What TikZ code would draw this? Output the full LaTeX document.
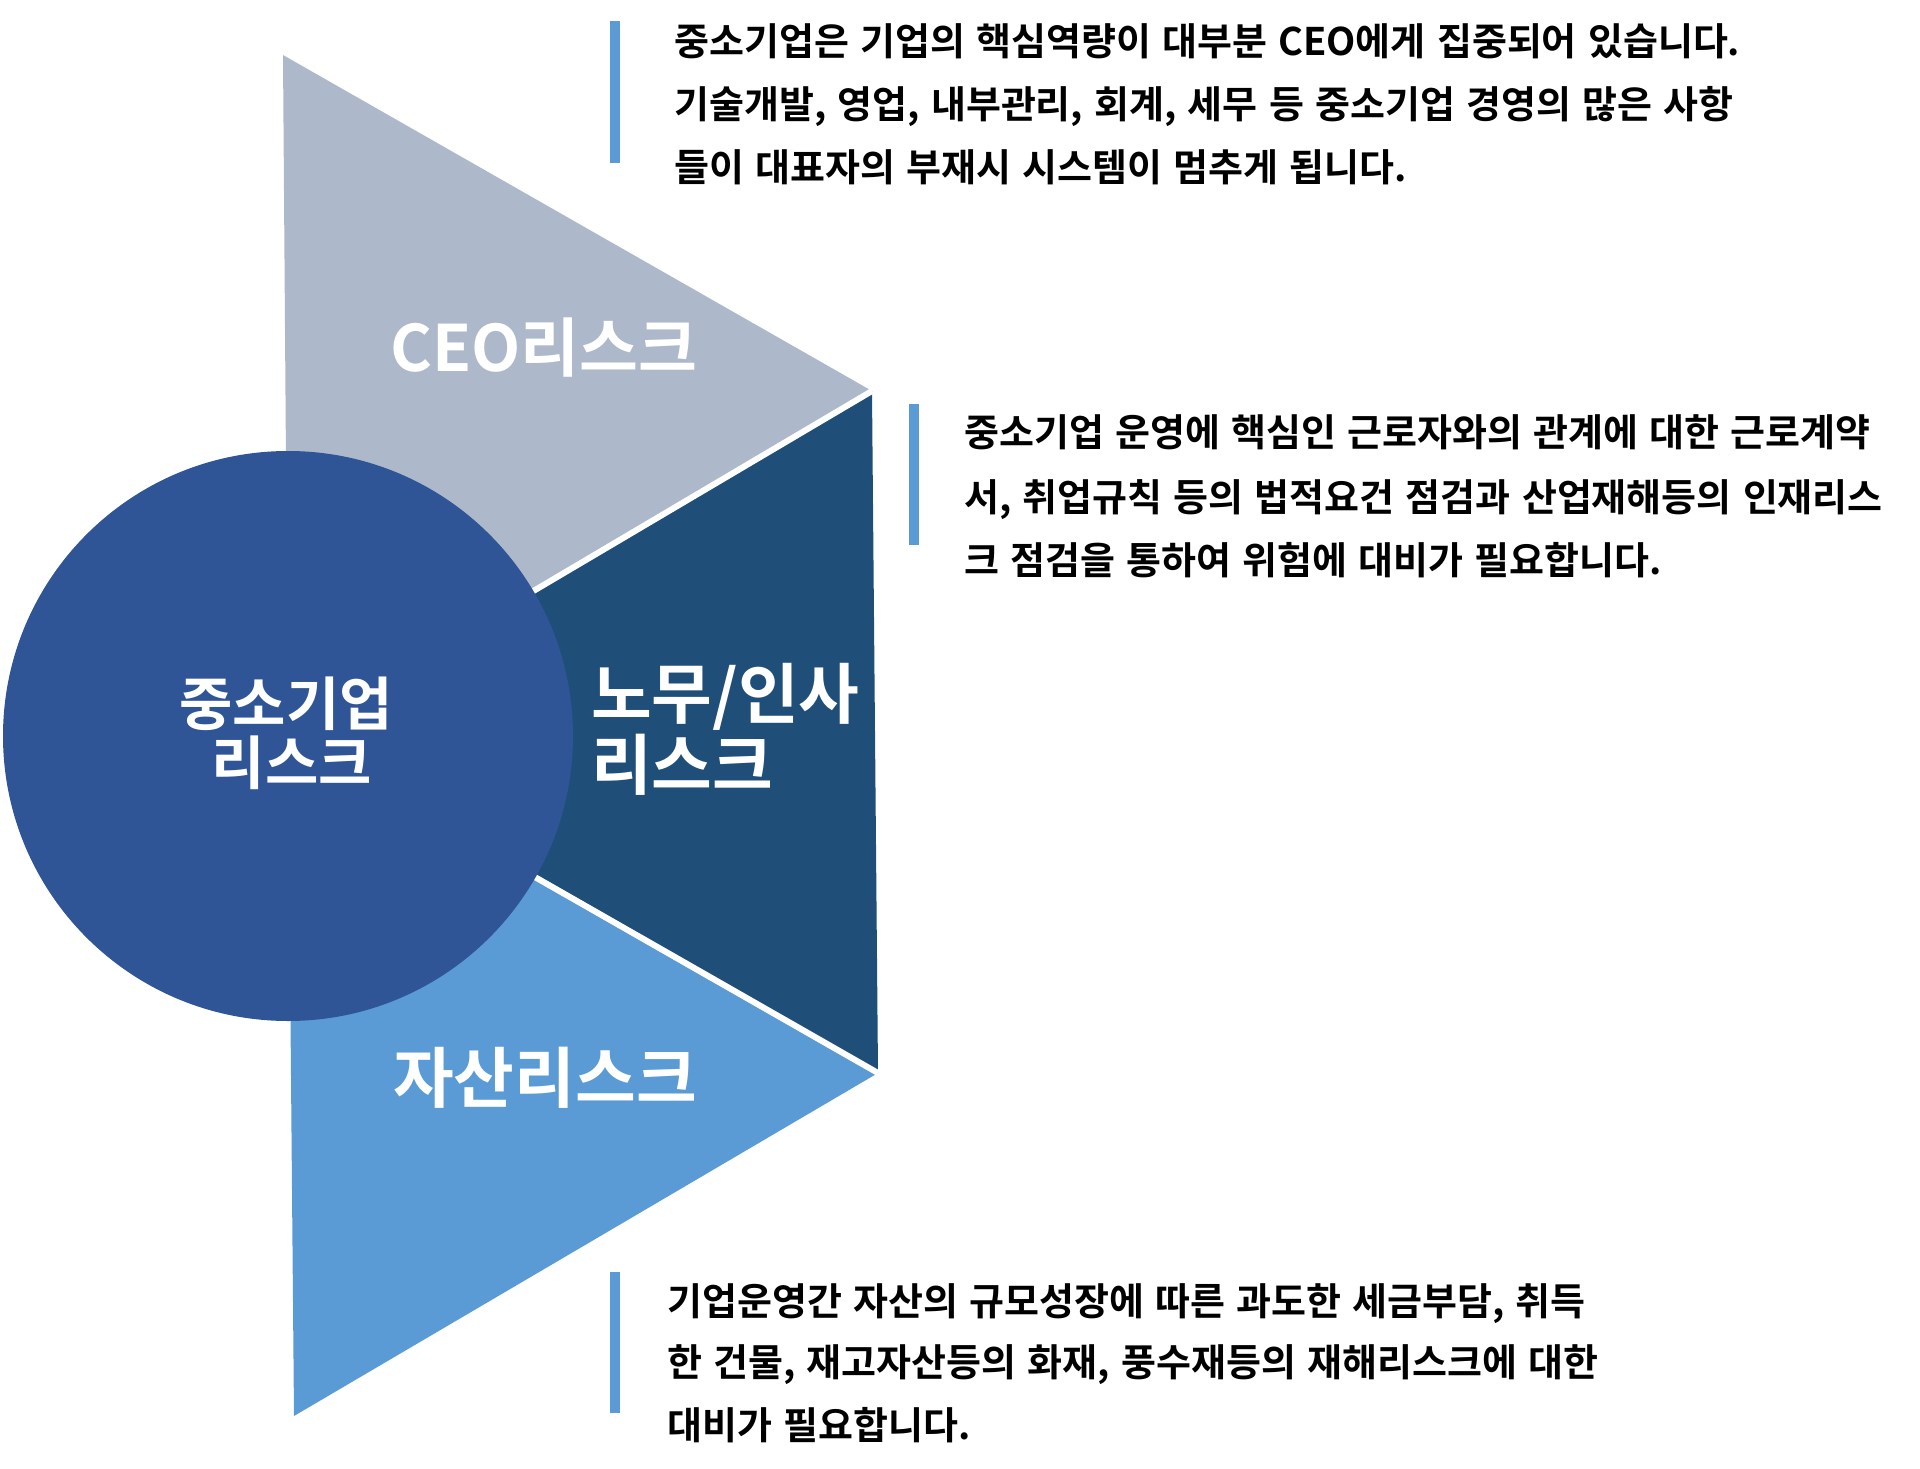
\documentclass[tikz,border=0pt]{standalone}
\usepackage{fontspec}
\setmainfont{Noto Sans CJK KR}[BoldFont={Noto Sans CJK KR Bold}]
\newfontfamily\bodyfont{Noto Sans CJK KR}[BoldFont={Noto Sans CJK KR Bold}, WordSpace=1.3]
\definecolor{ceoc}{HTML}{ADB9CA}
\definecolor{navyc}{HTML}{1F4E79}
\definecolor{assetc}{HTML}{5B9BD5}
\definecolor{circc}{HTML}{2F5597}
\definecolor{barc}{HTML}{5B9BD5}
\begin{document}
\begin{tikzpicture}[x=1pt,y=-1pt,
  gap/.style={draw=white, line width=6pt},
  body/.style={anchor=base west, inner sep=0pt, font=\bodyfont\fontsize{38}{45}\selectfont\bfseries, text=black},
  bigc/.style={anchor=base, inner sep=0pt, font=\fontsize{64}{74}\selectfont\bfseries, text=white},
  big/.style={anchor=base, inner sep=0pt, font=\fontsize{66}{76}\selectfont\bfseries, text=white},
  bigw/.style={anchor=base west, inner sep=0pt, font=\fontsize{66}{76}\selectfont\bfseries, text=white},
  mid/.style={anchor=base, inner sep=0pt, font=\fontsize{58}{66}\selectfont\bfseries, text=white},
  bar/.style={fill=barc}]
\useasboundingbox (0,0) rectangle (1920,1469);
\coordinate (C) at (288,736);
\coordinate (T) at (283,55);
\coordinate (R1) at (872,391);
\coordinate (R2) at (878,1073);
\coordinate (B) at (294,1416);
% triangles
\fill[ceoc] (C) -- (T) -- (R1) -- cycle;
\fill[assetc] (C) -- (R2) -- (B) -- cycle;
\fill[navyc] (C) -- (R1) -- (R2) -- cycle;
\draw[gap] (C) -- (R1);
\draw[gap] (C) -- (R2);
% center circle
\node[circle, fill=circc, minimum size=570pt, inner sep=0pt] (circ) at (C) {};
% labels
\node[bigc] (ceo) at (544,371) {CEO리스크};
\node[big] (asset) at (545,1102) {자산리스크};
\node[bigw] (hr1) at (591,718) {노무/인사};
\node[bigw] (hr2) at (591,789) {리스크};
\node[mid] (sme1) at (286,725) {중소기업};
\node[mid] (sme2) at (292,784) {리스크};
% bars
\fill[bar] (610,21) rectangle (620,163);
\fill[bar] (909,404) rectangle (919,545);
\fill[bar] (610,1272) rectangle (620,1413);
% block 1
\node[body] (a1) at (674,56) {중소기업은 기업의 핵심역량이 대부분 CEO에게 집중되어 있습니다.};
\node[body] (a2) at (674,119) {기술개발, 영업, 내부관리, 회계, 세무 등 중소기업 경영의 많은 사항};
\node[body] (a3) at (674,182) {들이 대표자의 부재시 시스템이 멈추게 됩니다.};
% block 2
\node[body] (b1) at (964,446) {중소기업 운영에 핵심인 근로자와의 관계에 대한 근로계약};
\node[body] (b2) at (964,511) {서, 취업규칙 등의 법적요건 점검과 산업재해등의 인재리스};
\node[body] (b3) at (964,574) {크 점검을 통하여 위험에 대비가 필요합니다.};
% block 3
\node[body] (c1) at (667,1315) {기업운영간 자산의 규모성장에 따른 과도한 세금부담, 취득};
\node[body] (c2) at (667,1376) {한 건물, 재고자산등의 화재, 풍수재등의 재해리스크에 대한};
\node[body] (c3) at (667,1439) {대비가 필요합니다.};
\end{tikzpicture}
\end{document}
